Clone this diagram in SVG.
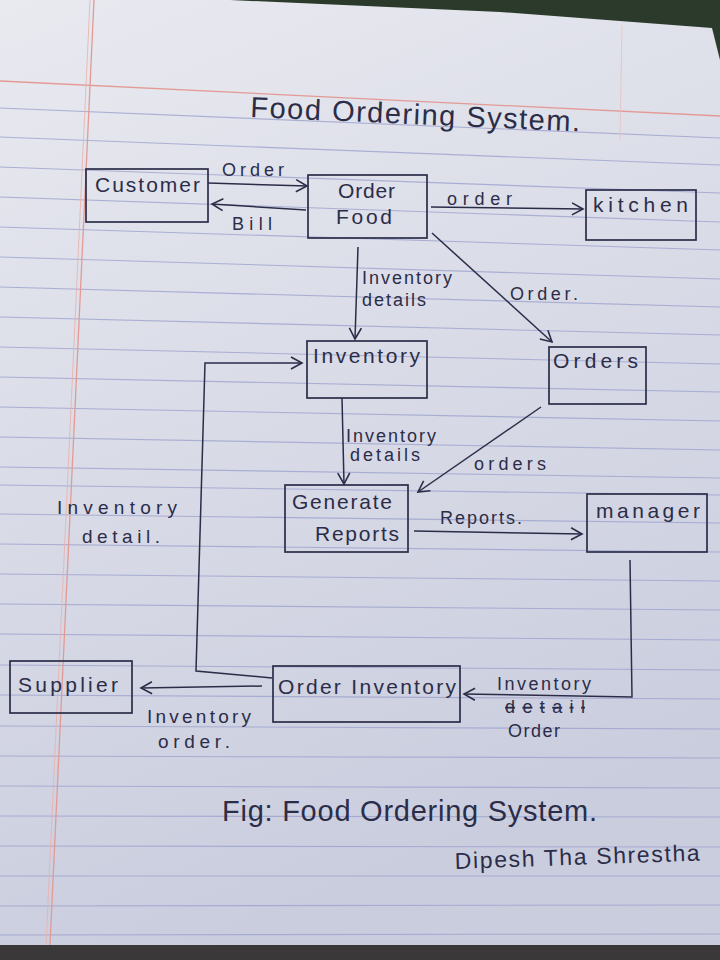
<svg xmlns="http://www.w3.org/2000/svg" width="720" height="960" viewBox="0 0 720 960">
<defs>
<linearGradient id="paper" x1="0" y1="0" x2="0.3" y2="1">
<stop offset="0" stop-color="#e9eaf0"/>
<stop offset="0.5" stop-color="#d9dbe7"/>
<stop offset="1" stop-color="#cacdde"/>
</linearGradient>
<marker id="ah" markerUnits="userSpaceOnUse" markerWidth="16" markerHeight="16" refX="12" refY="7" orient="auto">
<path d="M1,1 L12,7 L1,13" fill="none" stroke="#2b2d48" stroke-width="1.6"/>
</marker>
</defs>
<style>
.rule{stroke:#9ea3cf;stroke-width:1.1;opacity:0.8}
.box{fill:none;stroke:#2b2d48;stroke-width:1.7}
.con{fill:none;stroke:#2b2d48;stroke-width:1.5;marker-end:url(#ah)}
text{font-family:"Liberation Sans","DejaVu Sans",sans-serif;fill:#2b2d48}
.nt{font-size:21px}
.lb{font-size:18px}
.big{font-size:29px}
</style>
<g id="paper-bg">
<rect x="0" y="0" width="720" height="960" fill="#2c3a2c"/>
<polygon points="0,0 230,0 500,12 712,28 720,60 720,945 0,948" fill="url(#paper)"/>
<rect x="0" y="945" width="720" height="15" fill="#3a3838"/>
<g id="rules">
<line class="rule" x1="0" y1="108" x2="720" y2="138"/>
<line class="rule" x1="0" y1="137" x2="720" y2="165"/>
<line class="rule" x1="0" y1="167" x2="720" y2="193"/>
<line class="rule" x1="0" y1="197" x2="720" y2="222"/>
<line class="rule" x1="0" y1="227" x2="720" y2="250"/>
<line class="rule" x1="0" y1="257" x2="720" y2="279"/>
<line class="rule" x1="0" y1="287" x2="720" y2="307"/>
<line class="rule" x1="0" y1="317" x2="720" y2="335"/>
<line class="rule" x1="0" y1="347" x2="720" y2="364"/>
<line class="rule" x1="0" y1="377" x2="720" y2="392"/>
<line class="rule" x1="0" y1="407" x2="720" y2="421"/>
<line class="rule" x1="0" y1="437" x2="720" y2="450"/>
<line class="rule" x1="0" y1="467" x2="720" y2="478"/>
<line class="rule" x1="0" y1="485" x2="720" y2="495"/>
<line class="rule" x1="0" y1="514" x2="720" y2="523"/>
<line class="rule" x1="0" y1="544" x2="720" y2="552"/>
<line class="rule" x1="0" y1="574" x2="720" y2="581"/>
<line class="rule" x1="0" y1="604" x2="720" y2="610"/>
<line class="rule" x1="0" y1="634" x2="720" y2="640"/>
<line class="rule" x1="0" y1="665" x2="720" y2="670"/>
<line class="rule" x1="0" y1="695" x2="720" y2="699"/>
<line class="rule" x1="0" y1="726" x2="720" y2="729"/>
<line class="rule" x1="0" y1="756" x2="720" y2="758"/>
<line class="rule" x1="0" y1="786" x2="720" y2="788"/>
<line class="rule" x1="0" y1="816" x2="720" y2="817"/>
<line class="rule" x1="0" y1="846" x2="720" y2="847"/>
<line class="rule" x1="0" y1="876" x2="720" y2="876"/>
<line class="rule" x1="0" y1="906" x2="720" y2="905"/>
<line class="rule" x1="0" y1="935" x2="720" y2="934"/>
</g>
<line x1="0" y1="81" x2="720" y2="116" stroke="#e39a95" stroke-width="1.3"/>
<line x1="94" y1="0" x2="50" y2="945" stroke="#e39a95" stroke-width="1.3"/>
<line x1="90" y1="0" x2="46" y2="945" stroke="#e8b0ab" stroke-width="0.8"/>
<line x1="622" y1="25" x2="620" y2="140" stroke="#e8c0bb" stroke-width="0.8"/>
</g>

<text id="title" class="big" x="250" y="117" textLength="330" transform="rotate(2.5 250 117)">Food Ordering System.</text>

<g id="connectors">
<path class="con" d="M208,183 L307,186"/>
<path class="con" d="M306,210 L212,204"/>
<path class="con" d="M431,207 L583,209"/>
<path class="con" d="M358,247 L355,339"/>
<path class="con" d="M432,233 L552,342"/>
<path class="con" d="M342,398 L344,484"/>
<path class="con" d="M541,407 L418,492"/>
<path class="con" d="M414,531 L582,534"/>
<path class="con" d="M630,560 L632,697 L464,694"/>
<path class="con" d="M262,686 L141,688"/>
<path class="con" d="M272,678 L196,671 L205,363 L302,363"/>
</g>

<g id="edge-labels">
<text class="lb" x="222" y="176" textLength="62">Order</text>
<text class="lb" x="232" y="230" textLength="40">Bill</text>
<text class="lb" x="447" y="205" textLength="65">order</text>
<text class="lb" x="362" y="284" textLength="90">Inventory</text>
<text class="lb" x="362" y="306" textLength="64">details</text>
<text class="lb" x="510" y="300" textLength="68">Order.</text>
<text class="lb" x="346" y="442" textLength="90">Inventory</text>
<text class="lb" x="350" y="461" textLength="70">details</text>
<text class="lb" x="474" y="470" textLength="72">orders</text>
<text class="lb" x="440" y="524" textLength="82">Reports.</text>
<text class="lb" x="57" y="514" textLength="120" style="font-size:19px">Inventory</text>
<text class="lb" x="82" y="543" textLength="78" style="font-size:19px">detail.</text>
<text class="lb" x="497" y="690" textLength="94">Inventory</text>
<text class="lb" x="505" y="713" textLength="80" style="text-decoration:line-through">detail</text>
<text class="lb" x="508" y="737" textLength="52">Order</text>
<text class="lb" x="147" y="723" textLength="104" style="font-size:19px">Inventory</text>
<text class="lb" x="158" y="748" textLength="72" style="font-size:19px">order.</text>
</g>

<g id="customer">
<rect class="box" x="86" y="169" width="122" height="53"/>
<text class="nt" x="95" y="192" textLength="105">Customer</text>
</g>
<g id="order-food">
<rect class="box" x="308" y="175" width="119" height="63"/>
<text class="nt" x="338" y="198" textLength="57">Order</text>
<text class="nt" x="336" y="224" textLength="56">Food</text>
</g>
<g id="kitchen">
<rect class="box" x="586" y="190" width="110" height="50"/>
<text class="nt" x="593" y="212" textLength="95">kitchen</text>
</g>
<g id="inventory">
<rect class="box" x="307" y="341" width="120" height="57"/>
<text class="nt" x="313" y="363" textLength="107">Inventory</text>
</g>
<g id="orders">
<rect class="box" x="549" y="347" width="97" height="57"/>
<text class="nt" x="553" y="368" textLength="85">Orders</text>
</g>
<g id="generate-reports">
<rect class="box" x="285" y="485" width="123" height="67"/>
<text class="nt" x="292" y="509" textLength="100">Generate</text>
<text class="nt" x="315" y="541" textLength="84">Reports</text>
</g>
<g id="manager">
<rect class="box" x="587" y="494" width="120" height="58"/>
<text class="nt" x="596" y="518" textLength="104">manager</text>
</g>
<g id="supplier">
<rect class="box" x="10" y="661" width="122" height="52"/>
<text class="nt" x="18" y="692" textLength="100">Supplier</text>
</g>
<g id="order-inventory">
<rect class="box" x="273" y="666" width="187" height="56"/>
<text class="nt" x="278" y="694" textLength="178">Order Inventory</text>
</g>

<text id="caption" class="big" x="222" y="821" textLength="375">Fig: Food Ordering System.</text>
<text id="signature" x="455" y="869" textLength="245" style="font-size:23px" transform="rotate(-2 455 869)">Dipesh Tha Shrestha</text>
</svg>
